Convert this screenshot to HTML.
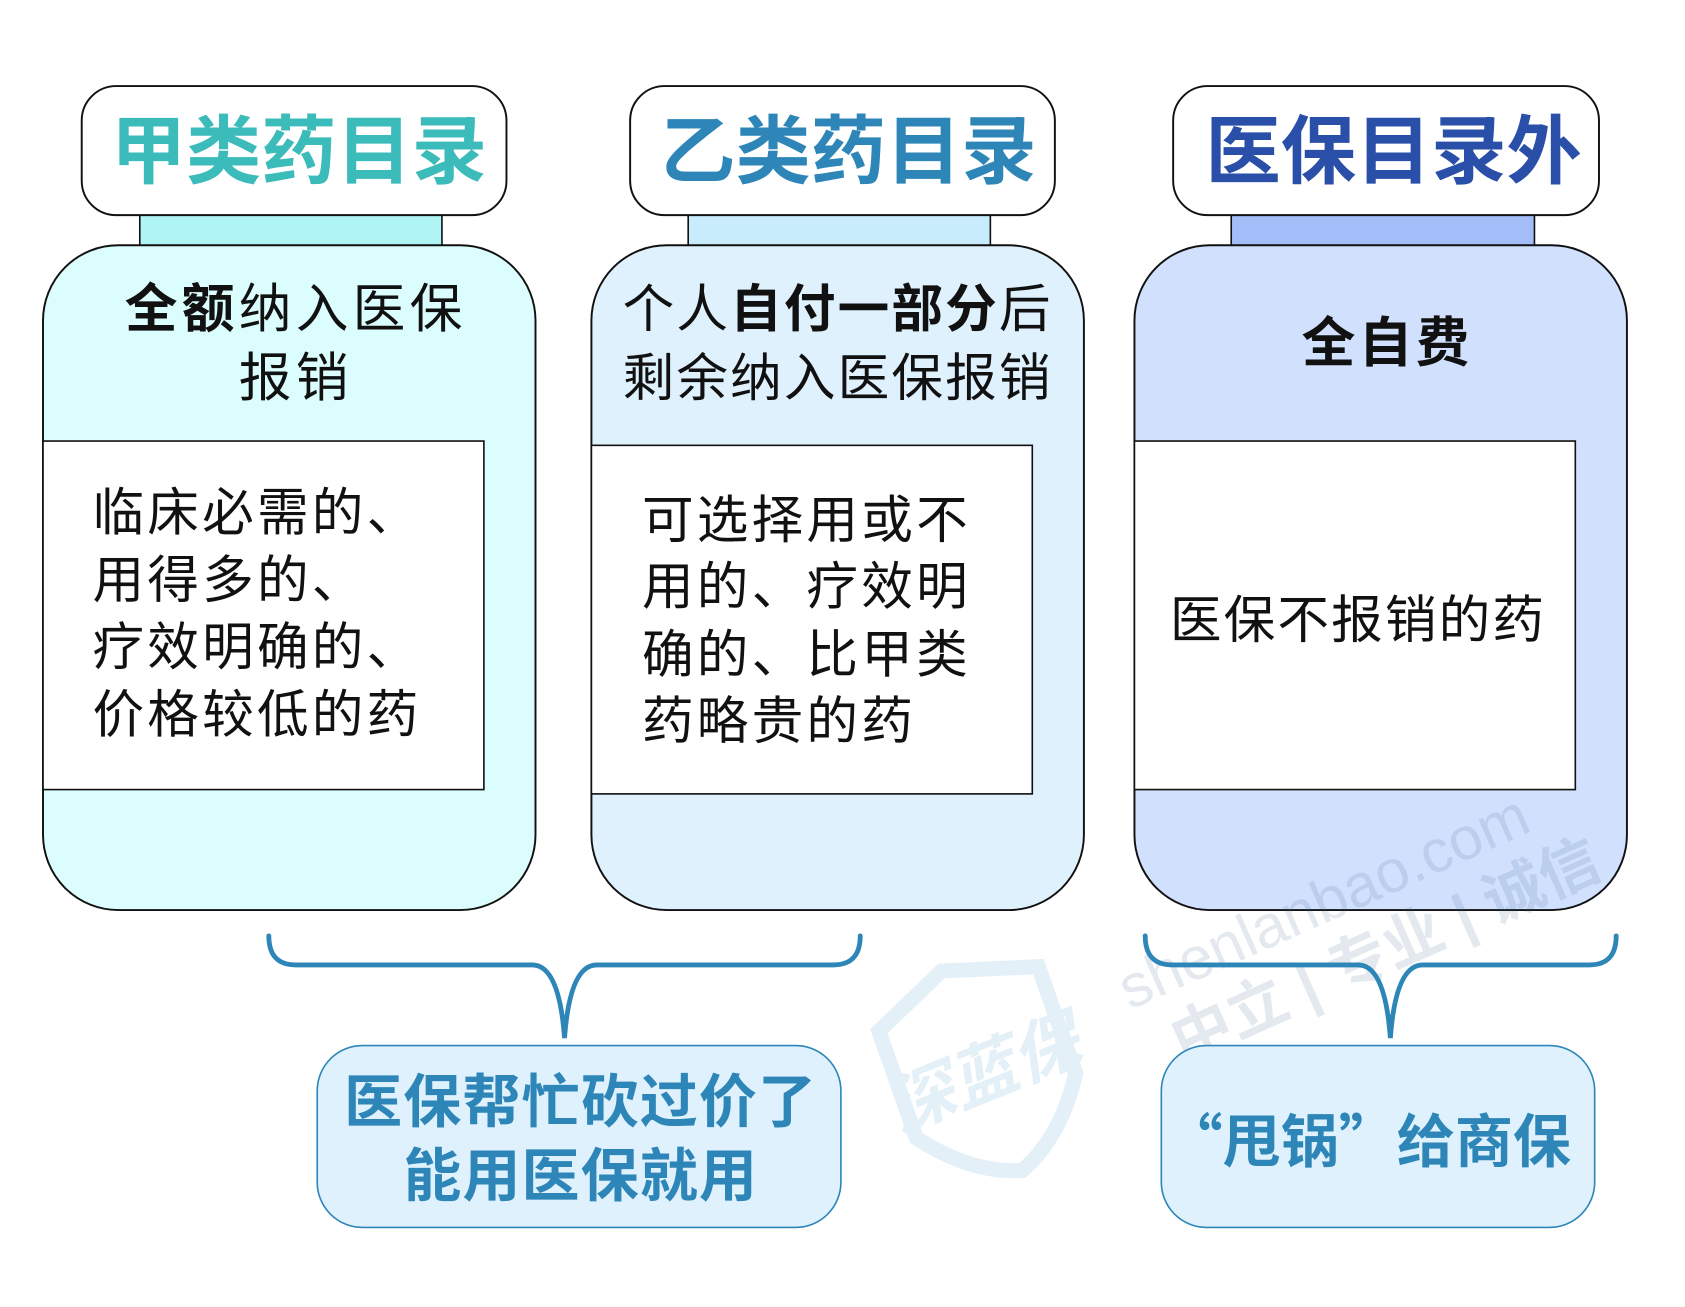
<!DOCTYPE html>
<html><head><meta charset="utf-8"><style>
html,body{margin:0;padding:0;background:#fff;}
svg{display:block;}
text{font-family:"Liberation Sans","Noto Sans CJK SC",sans-serif;}
</style></head><body>
<svg width="1685" height="1307" viewBox="0 0 1567 1215" preserveAspectRatio="none" xmlns="http://www.w3.org/2000/svg">
<!-- watermark logo -->
<g opacity="0.13" transform="rotate(-22 915 1000)">
<path d="M840 925 L915 895 L1000 925 L995 1030 Q960 1080 915 1095 Q870 1080 835 1030 Z" fill="none" stroke="#3a8fd0" stroke-width="14"/>
<text x="915" y="1020" text-anchor="middle" font-size="62" font-weight="bold" fill="#3a8fd0" font-style="italic">深蓝保</text>
</g>
<!-- Column 1 -->
<rect x="130" y="196" width="281" height="34" fill="#b0f5f5" stroke="#111" stroke-width="1.5"/>
<rect x="76" y="80" width="395" height="120" rx="32" fill="#fff" stroke="#111" stroke-width="1.8"/>
<text x="278" y="165" text-anchor="middle" font-size="70" font-weight="bold" fill="#3bbbb9">甲类药目录</text>
<rect x="40" y="228" width="458" height="618" rx="70" fill="#dcfdfd" stroke="#111" stroke-width="1.8"/>
<text x="275" y="304" text-anchor="middle" font-size="49" letter-spacing="4" fill="#111"><tspan font-weight="bold">全额</tspan>纳入医保</text>
<text x="275" y="368" text-anchor="middle" font-size="49" letter-spacing="4" fill="#111">报销</text>
<rect x="40" y="410" width="410" height="324" fill="#fff" stroke="#111" stroke-width="1.5"/>
<g font-size="48" letter-spacing="3" fill="#111">
<text x="86" y="493">临床必需的、</text>
<text x="86" y="556">用得多的、</text>
<text x="86" y="618">疗效明确的、</text>
<text x="86" y="681">价格较低的药</text>
</g>
<!-- Column 2 -->
<rect x="640" y="196" width="281" height="34" fill="#c9ecfd" stroke="#111" stroke-width="1.5"/>
<rect x="586" y="80" width="395" height="120" rx="32" fill="#fff" stroke="#111" stroke-width="1.8"/>
<text x="789" y="165" text-anchor="middle" font-size="70" font-weight="bold" fill="#2e86b8">乙类药目录</text>
<rect x="550" y="228" width="458" height="618" rx="70" fill="#dff1fd" stroke="#111" stroke-width="1.8"/>
<text x="779" y="304" text-anchor="middle" font-size="48" letter-spacing="2" fill="#111">个人<tspan font-weight="bold">自付一部分</tspan>后</text>
<text x="779" y="368" text-anchor="middle" font-size="48" letter-spacing="2" fill="#111">剩余纳入医保报销</text>
<rect x="550" y="414" width="410" height="324" fill="#fff" stroke="#111" stroke-width="1.5"/>
<g font-size="48" letter-spacing="3" fill="#111">
<text x="597" y="500">可选择用或不</text>
<text x="597" y="562">用的、疗效明</text>
<text x="597" y="625">确的、比甲类</text>
<text x="597" y="687">药略贵的药</text>
</g>
<!-- Column 3 -->
<rect x="1145" y="196" width="282" height="34" fill="#a3bdf9" stroke="#111" stroke-width="1.5"/>
<rect x="1091" y="80" width="396" height="120" rx="32" fill="#fff" stroke="#111" stroke-width="1.8"/>
<text x="1296" y="165" text-anchor="middle" font-size="70" font-weight="bold" fill="#2a4fa8">医保目录外</text>
<rect x="1055" y="228" width="458" height="618" rx="70" fill="#d1e0fd" stroke="#111" stroke-width="1.8"/>
<text x="1290" y="336" text-anchor="middle" font-size="50" letter-spacing="3" font-weight="bold" fill="#111">全自费</text>
<rect x="1055" y="410" width="410" height="324" fill="#fff" stroke="#111" stroke-width="1.5"/>
<text x="1088" y="593" font-size="48" letter-spacing="2" fill="#111">医保不报销的药</text>
<!-- watermark text -->
<g opacity="0.13" fill="#2e5f8a" transform="rotate(-24 1060 935)">
<text x="1050" y="935" font-size="56">shenlanbao.com</text>
<text x="1075" y="1000" font-size="56" font-weight="bold">中立 | 专业 | 诚信</text>
</g>
<!-- braces -->
<g fill="none" stroke="#2e86b8" stroke-width="4.5" stroke-linecap="round">
<path d="M250 870 Q250 897 275 897 L495 897 Q520 897 525 965 Q530 897 555 897 L775 897 Q800 897 800 870"/>
<path d="M1065 870 Q1065 897 1090 897 L1263 897 Q1288 897 1293 965 Q1298 897 1323 897 L1478 897 Q1503 897 1503 870"/>
</g>
<!-- bottom boxes -->
<rect x="295" y="972" width="487" height="169" rx="42" fill="#dff1fd" stroke="#2e86b8" stroke-width="1.5"/>
<text x="540" y="1043" text-anchor="middle" font-size="54" letter-spacing="1" font-weight="bold" fill="#2e86b8">医保帮忙砍过价了</text>
<text x="540" y="1112" text-anchor="middle" font-size="54" letter-spacing="1" font-weight="bold" fill="#2e86b8">能用医保就用</text>
<rect x="1080" y="972" width="403" height="169" rx="42" fill="#dff1fd" stroke="#2e86b8" stroke-width="1.5"/>
<text x="1272" y="1080" text-anchor="middle" font-size="54" font-weight="bold" fill="#2e86b8" style="font-family:'Noto Sans CJK SC',sans-serif">“甩锅”给商保</text>
</svg>
</body></html>
